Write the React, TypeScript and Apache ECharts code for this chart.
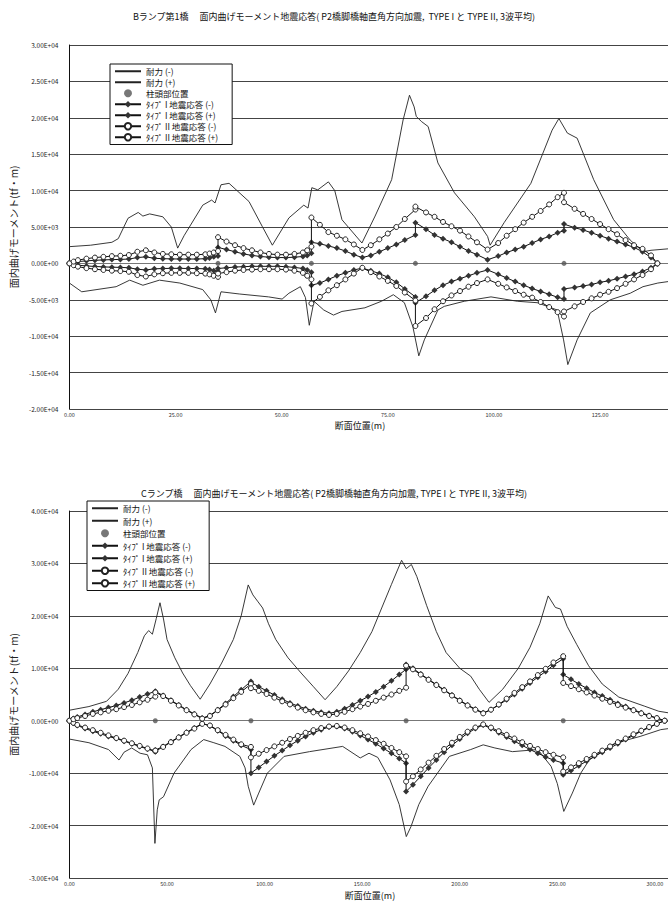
import React, { useEffect, useRef } from 'react';
import * as echarts from 'echarts';

const FONT = '"Noto Sans CJK JP", "Noto Sans", sans-serif';

const B_TITLE = 'Bランプ第1橋　 面内曲げモーメント地震応答( P2橋脚橋軸直角方向加震,  TYPE I と TYPE II, 3波平均)';
const C_TITLE = 'Cランプ橋　 面内曲げモーメント地震応答( P2橋脚橋軸直角方向加震, TYPE I と TYPE II, 3波平均)';
const Y_NAME = '面内曲げモーメント(tf・m)';
const X_NAME = '断面位置(m)';
const SERIES_NAMES = ['耐力 (-)', '耐力 (+)', '柱頭部位置', 'ﾀｲﾌﾟ I 地震応答 (-)', 'ﾀｲﾌﾟ I 地震応答 (+)', 'ﾀｲﾌﾟ II 地震応答 (-)', 'ﾀｲﾌﾟ II 地震応答 (+)'];

// ---------- Chart 1 : Bランプ第1橋 ----------
const B_X = [0,1,2,4,6,8,10,12,14,16, 18,20,22,24,26,28,30,32,33,34, 35,35,37,39,41,43,45,47,49,51, 53,55,56,57,57,59,61,63,65,67, 69,71,73,75,77,79,81.5,81.5,84,86, 88,90,92,94,96,98.5,101,103,105,107, 109,111,113,115,116.5,116.5,119,121,123,125, 127,129,131,133,135,137,138.5];
const B_T1N = [0,-150,-250,-350,-420,-480,-520,-550,-600,-800, -900,-750,-700,-680,-680,-700,-700,-750,-850,-1000, -1100,-700,-600,-500,-450,-400,-400,-400,-400,-450, -550,-700,-900,-1200,-3000,-2700,-2200,-1700,-1300,-900, -650,-1000,-1400,-1900,-2600,-3500,-4600,-5400,-4500,-3700, -3000,-2500,-2100,-1700,-1300,-900,-1500,-2000,-2500,-3000, -3450,-3850,-4250,-4650,-4900,-3500,-3300,-3100,-2900,-2600, -2400,-2100,-1800,-1500,-1100,-600,0];
const B_T1P = [0,150,250,350,420,480,520,550,600,800, 900,700,650,620,600,600,600,650,750,900, 1000,2200,1900,1600,1300,1100,950,850,800,800, 850,950,1100,1400,2900,2700,2400,2100,1700,1200, 800,1100,1600,2100,2600,3200,3900,5600,4700,3900, 3400,2900,2300,1700,1200,500,1000,1500,1900,2300, 2800,3300,3700,4200,4500,5400,4900,4600,4200,3800, 3400,3000,2600,2200,1600,800,0];
const B_T2N = [0,-250,-450,-650,-800,-900,-1000,-1050,-1150,-1600, -1800,-1500,-1350,-1300,-1300,-1300,-1350,-1400,-1500,-1700, -1850,-1400,-1200,-1000,-900,-850,-800,-800,-800,-850, -1000,-1300,-1700,-2200,-5500,-4600,-3700,-3000,-2200,-1400, -600,-1200,-1800,-2400,-3100,-4000,-5100,-8600,-7500,-6300, -5200,-4400,-3800,-3200,-2700,-2200,-2800,-3300,-3800,-4300, -4700,-5300,-6000,-6700,-7300,-6600,-5900,-5300,-4800,-4300, -3900,-3400,-2800,-2200,-1600,-800,0];
const B_T2P = [0,250,450,650,800,900,1000,1050,1150,1600, 1800,1500,1300,1250,1200,1200,1200,1250,1350,1500, 1700,3600,3000,2500,2100,1800,1500,1300,1200,1200, 1300,1500,1800,2300,6300,5300,4300,3800,3300,2600, 1850,2500,3300,4100,5000,6100,7400,7800,7000,6400, 5700,5100,4500,3700,2900,1900,2800,3800,4700,5600, 6400,7200,8100,9100,9700,8400,7500,6800,6100,5400, 4700,4000,3200,2500,2000,1100,0];
const B_CAPP_X = [0,5,10,11.5,13.8,16.2,17.3,18.9,22,24, 25.5,27,31.4,33.5,34.3,35.7,37.6,42.3,45.4,47.8, 51.7,55.2,56.2,57.1,58.5,61,62.5,64.2,68.9,72, 75.9,78.6,80.1,81.2,81.7,82.9,84.5,86.8,90.7,95.4, 98.5,99.1,102.4,108.7,113.7,115.3,117.3,119.6,123.5,128.2, 132.1,135.1,137,141];
const B_CAPP = [2300,2500,2900,3400,6200,7000,6500,6800,6400,5000, 2100,3800,8000,8700,8300,10800,11000,8500,5100,2500, 6250,8000,7600,10400,10100,11200,10000,6000,2800,6500, 11500,19700,23100,21500,20200,19500,18800,13800,9700,6400, 3700,2500,5600,11000,18300,19900,17900,17200,11500,6000, 3200,1600,1800,2000];
const B_CAPN_X = [0,2.9,11,14.2,17.3,21.2,26,31.4,33.3,34.4, 35.7,40,46.9,50.1,51.7,54.4,55.6,56.5,57.6,59.9, 62.2,64.2,69.6,73.5,76.3,78.9,80.9,82.3,83.6,86.8, 88.3,93,99.3,105.5,110.2,114.9,116.4,117.4,119.6,122.7, 127.4,132.1,135.1,138.6,141];
const B_CAPN = [-2700,-3900,-3200,-2300,-3000,-2300,-2700,-3600,-5000,-6800, -3900,-4200,-4600,-4900,-4100,-3200,-4700,-8500,-5200,-6400, -7100,-6600,-6100,-5200,-4300,-5400,-8700,-12700,-10500,-6400, -5900,-5200,-4600,-5200,-5400,-6400,-10500,-13900,-10500,-6800, -5000,-4100,-3200,-2700,-2500];
const B_COL_X = [35, 57, 81.5, 116.5];

// ---------- Chart 2 : Cランプ橋 ----------
const C_X = [0,2,4,8,12,16,20,24,28,32, 36,40,44,44,48,52,56,60,64,68, 72,76,80,84,88,93,93,97,101,105, 109,113,117,121,125,129,133,137,141,145, 149,153,157,161,165,169,172.5,172.5,176,180, 184,188,192,196,200,204,208,212,216,220, 224,228,232,236,240,244,248,253,253,257, 261,265,269,273,277,281,285,289,293,297, 301,305];
const C_T1N = [0,-500,-900,-1500,-2000,-2500,-3000,-3400,-3900,-4400, -4900,-5400,-5900,-5600,-4900,-4000,-3100,-2200,-1400,-500, -1000,-1900,-2900,-3800,-4700,-5500,-10000,-8900,-7800,-6700, -5700,-4700,-3800,-3000,-2300,-1700,-1200,-1100,-1500,-2100, -2800,-3600,-4400,-5300,-6200,-7200,-8100,-13500,-12200,-10600, -9000,-7500,-6000,-4700,-3500,-2400,-1500,-800,-1500,-2300, -3100,-3900,-4700,-5500,-6200,-6900,-7500,-8100,-10300,-9500, -8600,-7700,-6800,-6000,-5200,-4400,-3600,-2800,-2000,-1300, -600,0];
const C_T1P = [0,400,700,1200,1700,2100,2500,2900,3400,3900, 4500,5100,5600,5500,4800,3900,3000,2100,1300,500, 1000,2100,3300,4600,5900,7500,7300,6500,5700,4900, 4100,3400,2800,2300,1900,1600,1400,1700,2300,3000, 3800,4600,5500,6500,7600,8800,9800,10700,10000,8900, 7900,6900,5900,4900,3900,3000,2200,1500,2100,3000, 4000,5000,6100,7200,8300,9400,10600,11800,8800,7900, 7000,6200,5400,4700,4000,3300,2700,2100,1500,1000, 500,0];
const C_T2N = [0,-400,-800,-1300,-1800,-2300,-2800,-3300,-3800,-4300, -4800,-5300,-5800,-5700,-5000,-4100,-3200,-2300,-1500,-600, -900,-1800,-2700,-3600,-4500,-5000,-7000,-6300,-5600,-4900, -4200,-3500,-2900,-2300,-1800,-1400,-1100,-1000,-1300,-1800, -2400,-3000,-3700,-4400,-5200,-6000,-6800,-11600,-10600,-9300, -8000,-6700,-5400,-4200,-3100,-2100,-1300,-700,-1300,-2000, -2700,-3400,-4100,-4800,-5400,-6000,-6500,-7000,-9700,-8900, -8100,-7300,-6500,-5700,-4900,-4100,-3400,-2600,-1900,-1200, -600,0];
const C_T2P = [0,300,500,900,1300,1600,1900,2200,2600,3000, 3500,4000,4600,5400,4700,3800,2900,2000,1200,400, 900,2000,3100,4300,5500,7000,6200,5700,5100,4400, 3700,3100,2500,2000,1600,1300,1100,1300,1700,2200, 2700,3200,3800,4400,5000,5700,6300,10500,9800,8800, 7800,6800,5800,4800,3800,2900,2100,1400,2100,3100, 4200,5300,6400,7500,8700,9900,11100,12300,7200,6600, 6000,5400,4800,4200,3600,3000,2500,2000,1400,900, 500,0];
const C_CAPP_X = [0,10,19,25,30,35,38.4,40.6,42.5,44.5, 46.4,48.2,50,54,58,62,67,72,78,84, 88,91.6,94,96.4,99,102,105.7,112,118.7,125, 131,137,143,149,155,160,165,170.2,172.6,175.2, 178,183,188,193,200,205.6,210,215,222,230, 236,241,245.3,249,251.6,255,260,266,273,281.5, 294.5,302,307];
const C_CAPP = [2000,2700,3700,6000,9000,13000,16200,17200,16500,19500, 22500,19400,15500,12000,9100,6700,4100,7000,11000,15500, 20000,25900,24000,22800,21500,18500,15500,12000,9100,6500, 4000,6500,9500,13000,17000,21500,26000,30600,29000,29800, 27500,22000,17000,13000,10000,8500,6000,3500,6000,10000, 14000,18500,23800,21600,21300,18000,14500,10500,7000,4500, 2800,1800,1500];
const C_CAPN_X = [0,10,20,25.4,28,31.9,36.2,40,42.5,43.8, 45,46,48.2,53.6,62.3,68.8,74,79.7,87.3,90, 91.6,94.4,97,101.4,110,123,140,149,153.5,158, 164.3,169,172.6,175,179,183.8,194.7,205.6,212,218, 227,240,246.8,250,253.3,257.7,262,266.3,279.4,292.4, 303,307];
const C_CAPN = [-3500,-4200,-5500,-7500,-6000,-5200,-6200,-6500,-9000,-23400, -17000,-15100,-14500,-10000,-5500,-3600,-4200,-4900,-6800,-9000, -12500,-16100,-13800,-10000,-6800,-5900,-4900,-7100,-6200,-7000, -11300,-16000,-22100,-20200,-16000,-12500,-6800,-5500,-4600,-5200, -5900,-5500,-8700,-12000,-17300,-13800,-10000,-7500,-4300,-3000, -1700,-1500];
const C_COL_X = [44, 93, 172.5, 253];

function zip(xs: number[], ys: number[]) {
  return xs.map((x, i) => [x, ys[i]]);
}

function sci(v: number) {
  if (v === 0) return '0.00E+00';
  const s = Math.abs(v).toExponential(2);
  const [m, e] = s.split('e');
  const en = parseInt(e, 10);
  return (v < 0 ? '-' : '') + m + 'E' + (en < 0 ? '-' : '+') + String(Math.abs(en)).padStart(2, '0');
}

type Cfg = {
  title: string; titleTop: number;
  grid: { left: number; right: number; top: number; bottom: number };
  xMax: number; xInterval: number;
  yMin: number; yMax: number; yInterval: number;
  legendLeft: number; legendTop: number; legendGap: number;
  xNameX: number; xNameY: number;
  x: number[]; t1n: number[]; t1p: number[]; t2n: number[]; t2p: number[];
  capPX: number[]; capP: number[]; capNX: number[]; capN: number[]; colX: number[];
};

function buildOption(c: Cfg) {
  const capStyle = { color: '#222', width: 0.9 };
  const legendData = SERIES_NAMES.map((n, i) =>
    i < 2 ? { name: n, itemStyle: { opacity: 0 } } : { name: n }
  );
  return {
    animation: false,
    textStyle: { fontFamily: FONT },
    title: {
      text: c.title, left: 'center', top: c.titleTop,
      textStyle: { fontSize: 9, fontWeight: 'normal', color: '#111', fontFamily: FONT },
    },
    legend: {
      orient: 'vertical', left: c.legendLeft, top: c.legendTop,
      backgroundColor: '#fff', borderColor: '#111', borderWidth: 1,
      padding: [3, 14, 3, 4], itemGap: c.legendGap, itemWidth: 26, itemHeight: 8,
      selectedMode: false,
      textStyle: { fontSize: 8.5, color: '#111', fontFamily: FONT },
      data: legendData,
    },
    grid: { ...c.grid, containLabel: false },
    xAxis: {
      type: 'value', min: 0, max: c.xMax, interval: c.xInterval,
      axisLine: { show: true, onZero: true, lineStyle: { color: '#777', width: 1 } },
      axisTick: { show: false },
      splitLine: { show: false },
      axisLabel: { fontSize: 5.5, margin: 3, color: '#333', showMaxLabel: false, formatter: (v: number) => v.toFixed(2) },
    },
    yAxis: {
      type: 'value', min: c.yMin, max: c.yMax, interval: c.yInterval,
      axisLine: { show: true, lineStyle: { color: '#111', width: 1 } },
      axisTick: { show: false },
      splitLine: { show: true, lineStyle: { color: '#444', width: 1 } },
      axisLabel: { fontSize: 6.5, margin: 11, color: '#222', formatter: sci },
      name: Y_NAME, nameLocation: 'middle', nameRotate: 90, nameGap: 45,
      nameTextStyle: { fontSize: 10, color: '#222', fontFamily: FONT },
    },
    graphic: [
      { type: 'text', x: c.xNameX, y: c.xNameY, style: { text: X_NAME, fill: '#111', align: 'center', verticalAlign: 'middle', font: `9px ${FONT}` } },
    ],
    series: [
      { name: SERIES_NAMES[0], type: 'line', data: zip(c.capNX, c.capN), symbol: 'none', lineStyle: capStyle, itemStyle: { color: '#222' }, z: 1 },
      { name: SERIES_NAMES[1], type: 'line', data: zip(c.capPX, c.capP), symbol: 'none', lineStyle: capStyle, itemStyle: { color: '#222' }, z: 1 },
      { name: SERIES_NAMES[2], type: 'scatter', data: c.colX.map((x) => [x, 0]), symbol: 'circle', symbolSize: 5, itemStyle: { color: '#555' }, z: 2 },
      { name: SERIES_NAMES[3], type: 'line', data: zip(c.x, c.t1n), symbol: 'diamond', symbolSize: 6, itemStyle: { color: '#333' }, lineStyle: { color: '#111', width: 1 }, z: 3 },
      { name: SERIES_NAMES[4], type: 'line', data: zip(c.x, c.t1p), symbol: 'diamond', symbolSize: 6, itemStyle: { color: '#333' }, lineStyle: { color: '#111', width: 1 }, z: 3 },
      { name: SERIES_NAMES[5], type: 'line', data: zip(c.x, c.t2n), symbol: 'circle', symbolSize: 5, itemStyle: { color: '#fff', borderColor: '#222', borderWidth: 1 }, lineStyle: { color: '#111', width: 1 }, z: 4 },
      { name: SERIES_NAMES[6], type: 'line', data: zip(c.x, c.t2p), symbol: 'circle', symbolSize: 5, itemStyle: { color: '#fff', borderColor: '#222', borderWidth: 1 }, lineStyle: { color: '#111', width: 1 }, z: 4 },
    ],
  };
}

const CFG_B: Cfg = {
  title: B_TITLE, titleTop: 7,
  grid: { left: 66, right: 0, top: 45, bottom: 31 },
  xMax: 141, xInterval: 25,
  yMin: -20000, yMax: 30000, yInterval: 5000,
  legendLeft: 110, legendTop: 64, legendGap: 2.5,
  xNameX: 360, xNameY: 425,
  x: B_X, t1n: B_T1N, t1p: B_T1P, t2n: B_T2N, t2p: B_T2P,
  capPX: B_CAPP_X, capP: B_CAPP, capNX: B_CAPN_X, capN: B_CAPN, colX: B_COL_X,
};

const CFG_C: Cfg = {
  title: C_TITLE, titleTop: 44,
  grid: { left: 66, right: 0, top: 71, bottom: 25 },
  xMax: 306.7, xInterval: 50,
  yMin: -30000, yMax: 40000, yInterval: 10000,
  legendLeft: 87, legendTop: 61, legendGap: 4,
  xNameX: 370, xNameY: 455,
  x: C_X, t1n: C_T1N, t1p: C_T1P, t2n: C_T2N, t2p: C_T2P,
  capPX: C_CAPP_X, capP: C_CAPP, capNX: C_CAPN_X, capN: C_CAPN, colX: C_COL_X,
};

function Chart({ cfg, top, height }: { cfg: Cfg; top: number; height: number }) {
  const ref = useRef<HTMLDivElement>(null);
  useEffect(() => {
    if (!ref.current) return;
    const chart = echarts.init(ref.current, undefined, { renderer: 'svg' });
    chart.setOption(buildOption(cfg) as any);
    return () => chart.dispose();
  }, [cfg]);
  return <div ref={ref} style={{ position: 'absolute', left: 0, top, width: 668, height }} />;
}

export default function App() {
  return (
    <div style={{ position: 'fixed', left: 0, top: 0, width: 668, height: 903, background: '#fff', overflow: 'hidden' }}>
      <Chart cfg={CFG_B} top={0} height={440} />
      <Chart cfg={CFG_C} top={440} height={463} />
    </div>
  );
}
